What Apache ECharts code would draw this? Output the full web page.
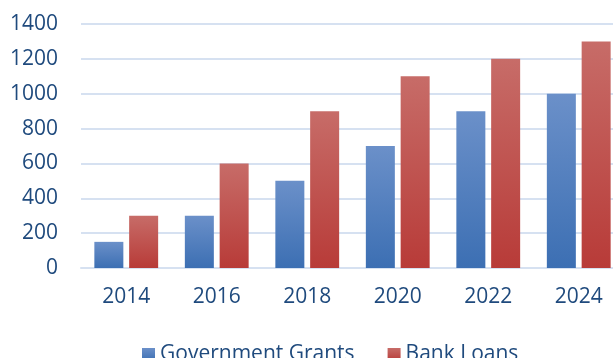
<!DOCTYPE html>
<html>
<head>
<meta charset="utf-8">
<script src="https://cdn.jsdelivr.net/npm/echarts@6/dist/echarts.min.js"></script>
<style>
  html, body { margin: 0; padding: 0; background: #ffffff; overflow: hidden; }
  #chart { width: 640px; height: 358px; }
</style>
</head>
<body>
<div id="chart"></div>
<script>
// Funding sources by year
const years = ['2014', '2016', '2018', '2020', '2022', '2024'];
const governmentGrants = [150, 300, 500, 700, 900, 1000];
const bankLoans = [300, 600, 900, 1100, 1200, 1300];
const yTicks = { min: 0, max: 1400, interval: 200 };

const textColor = '#1F4A7D';
const fontFamily = '"Open Sans", "Liberation Sans", sans-serif';

function gradient(top, bottom) {
  return new echarts.graphic.LinearGradient(0, 0, 0, 1, [
    { offset: 0, color: top },
    { offset: 1, color: bottom }
  ]);
}

const chart = echarts.init(document.getElementById('chart'), null, { renderer: 'canvas' });
chart.setOption({
  animation: false,
  backgroundColor: '#ffffff',
  grid: { left: 81, top: 24, width: 543, height: 244, containLabel: false },
  legend: {
    top: 339,
    left: 137,
    itemWidth: 13,
    itemHeight: 13,
    itemGap: 33,
    icon: 'rect',
    textStyle: { color: textColor, fontSize: 21, fontFamily: fontFamily },
    data: ['Government Grants', 'Bank Loans']
  },
  xAxis: {
    type: 'category',
    data: years,
    axisLine: { show: true, lineStyle: { color: '#D6E1F1', width: 2 } },
    axisTick: { show: false },
    axisLabel: { color: textColor, fontSize: 21, fontFamily: fontFamily, margin: 19 }
  },
  yAxis: {
    type: 'value',
    min: yTicks.min,
    max: yTicks.max,
    interval: yTicks.interval,
    axisLine: { show: false },
    axisTick: { show: false },
    splitLine: { lineStyle: { color: '#D6E1F1', width: 2 } },
    axisLabel: {
      color: textColor, fontSize: 21, fontFamily: fontFamily, margin: 23,
      formatter: v => String(v)
    }
  },
  series: [
    {
      name: 'Government Grants',
      type: 'bar',
      data: governmentGrants,
      barWidth: 29,
      barGap: '20%',
      itemStyle: { color: gradient('#6B90C9', '#3C6FB3') }
    },
    {
      name: 'Bank Loans',
      type: 'bar',
      data: bankLoans,
      barWidth: 29,
      barGap: '20%',
      itemStyle: { color: gradient('#C76C68', '#B83B38') }
    }
  ]
});
</script>
</body>
</html>
